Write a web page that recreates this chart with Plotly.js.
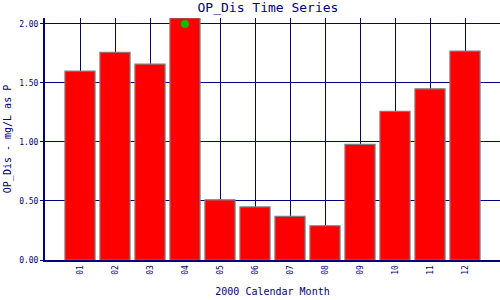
<!DOCTYPE html>
<html>
<head>
<meta charset="utf-8">
<script src="https://cdn.plot.ly/plotly-3.0.1.min.js"></script>
<style>html,body{margin:0;padding:0;background:#fff}#chart{width:500px;height:300px}</style>
</head>
<body>
<div id="chart"></div>
<script>
const months = ['01','02','03','04','05','06','07','08','09','10','11','12'];
const opDis = [1.60, 1.76, 1.66, 2.05, 0.51, 0.45, 0.37, 0.29, 0.98, 1.26, 1.45, 1.77];
const markerMonth = ['04'];
const markerValue = [2.00];
const yTicks = [0, 0.5, 1.0, 1.5, 2.0];
const yTickText = ['0.00','0.50','1.00','1.50','2.00'];

const navy = '#000080';
const mono = 'DejaVu Sans Mono, monospace';

const traces = [
  {
    type: 'bar', x: months, y: opDis,
    marker: {color: '#ff0000', line: {color: '#7f7f7f', width: 1.2}},
    width: 0.86, cliponaxis: false, hoverinfo: 'none'
  },
  {
    type: 'scatter', mode: 'markers', x: markerMonth, y: markerValue,
    marker: {color: '#00c000', size: 8}, cliponaxis: false, hoverinfo: 'none'
  }
];

const layout = {
  width: 500, height: 300,
  margin: {l: 45, r: 0, t: 18, b: 40, pad: 0},
  paper_bgcolor: '#ffffff', plot_bgcolor: '#ffffff',
  showlegend: false,
  title: {text: 'OP_Dis Time Series', font: {family: mono, size: 13, color: navy}, x: 0.536, xanchor: 'center', y: 0.975, yanchor: 'middle'},
  xaxis: {
    type: 'category', range: [-1, 12],
    showgrid: true, gridcolor: navy, gridwidth: 1,
    showline: true, linecolor: navy, linewidth: 2,
    ticks: '', tickangle: -90,
    tickfont: {family: mono, size: 8, color: navy},
    title: {text: '2000 Calendar Month', font: {family: mono, size: 10, color: navy}, standoff: 14},
    zeroline: false, fixedrange: true
  },
  yaxis: {
    range: [0, 2.05],
    tickvals: yTicks, ticktext: yTickText,
    showgrid: true, gridcolor: navy, gridwidth: 1,
    showline: true, linecolor: navy, linewidth: 2,
    ticks: 'outside', ticklen: 3, tickcolor: navy, tickwidth: 1,
    tickfont: {family: mono, size: 8, color: navy},
    title: {text: 'OP_Dis - mg/L as P', font: {family: mono, size: 10, color: navy}, standoff: 6},
    zeroline: false, fixedrange: true
  },
  bargap: 0.14
};

Plotly.newPlot('chart', traces, layout, {displayModeBar: false, staticPlot: true});
</script>
</body>
</html>
